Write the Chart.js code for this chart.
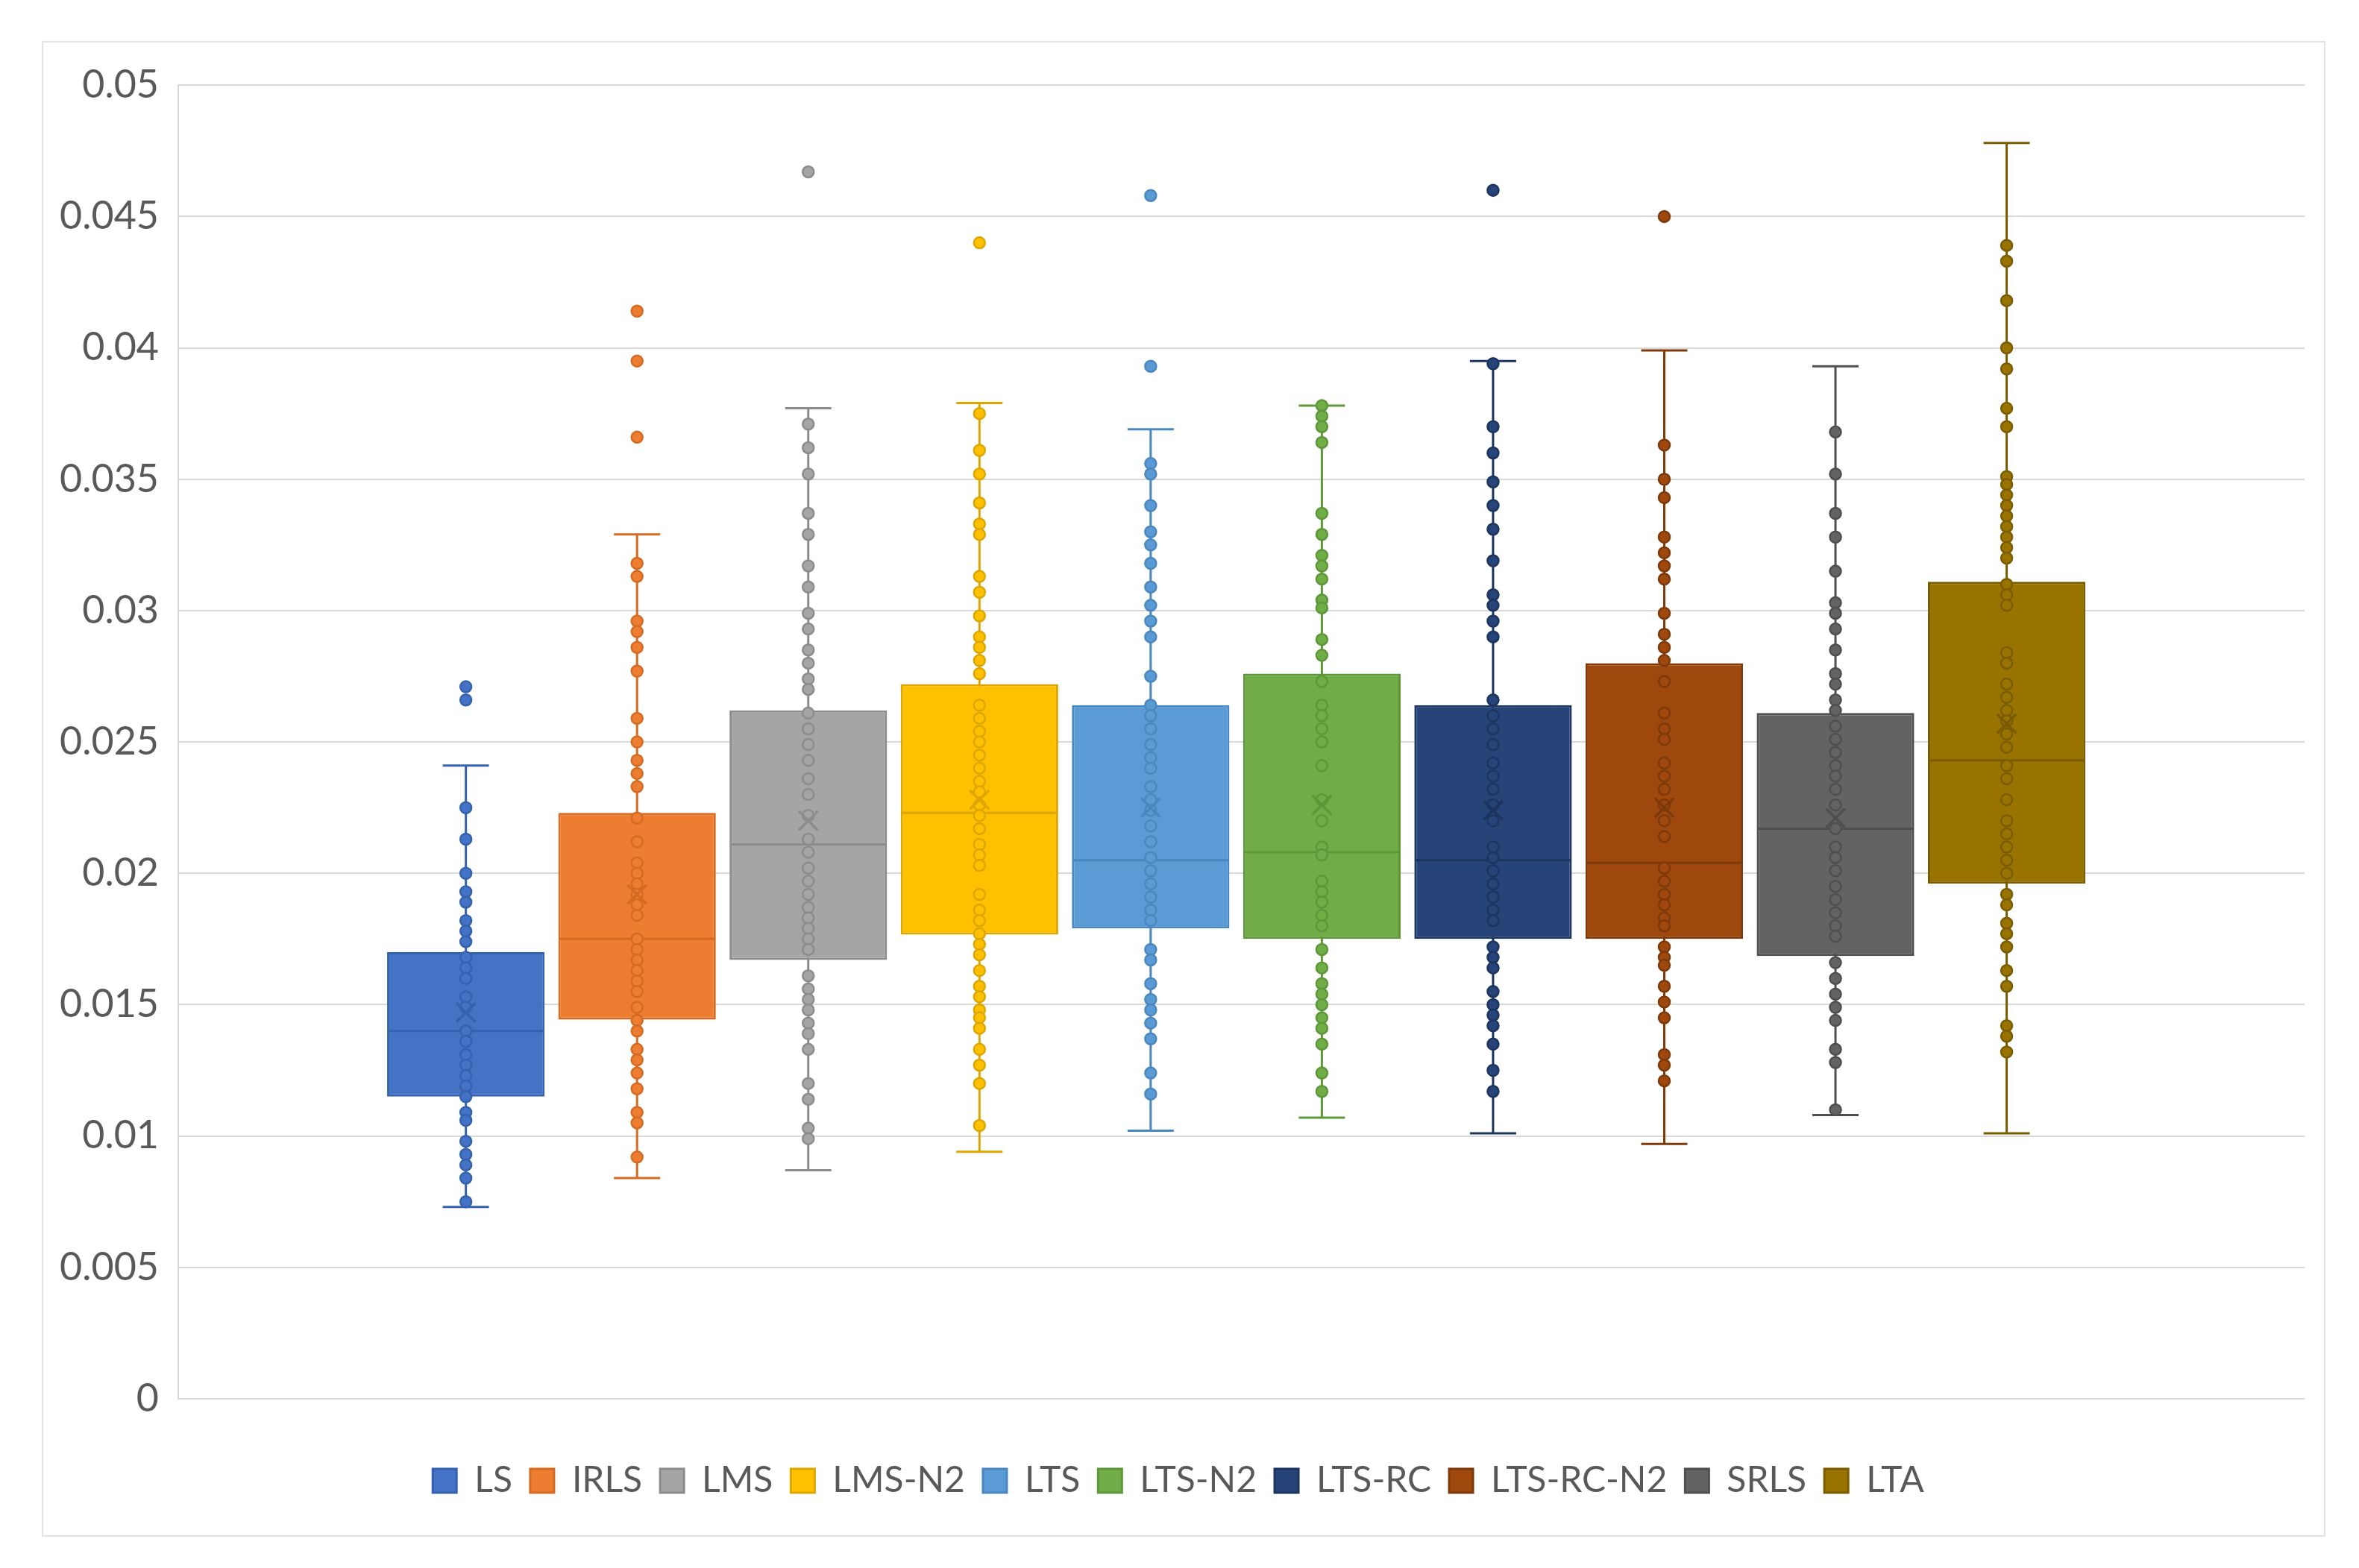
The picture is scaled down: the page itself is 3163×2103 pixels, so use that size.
<!DOCTYPE html>
<html>
<head>
<meta charset="utf-8">
<script src="https://cdn.jsdelivr.net/npm/chart.js@4.4.1/dist/chart.umd.min.js"></script>
<style>
  html, body { margin: 0; padding: 0; background: #fff; }
  #frame {
    position: absolute; left: 56px; top: 55px;
    width: 3062px; height: 2006px;
    border: 2px solid #e3e3e3; box-sizing: border-box;
  }
</style>
</head>
<body>
<div id="frame"><canvas id="chart"></canvas></div>
<script>
// series names (one box per method)
const categories = ['LS', 'IRLS', 'LMS', 'LMS-N2', 'LTS', 'LTS-N2', 'LTS-RC', 'LTS-RC-N2', 'SRLS', 'LTA'];

// box statistics
const q1s       = [0.0115, 0.01443, 0.0167, 0.01767, 0.0179, 0.0175, 0.0175, 0.0175, 0.01685, 0.0196];
const medians   = [0.0140, 0.0175, 0.0211, 0.0223, 0.0205, 0.0208, 0.0205, 0.0204, 0.0217, 0.0243];
const q3s       = [0.0170, 0.0223, 0.0262, 0.0272, 0.0264, 0.0276, 0.0264, 0.0280, 0.0261, 0.0311];
const lows      = [0.0073, 0.0084, 0.0087, 0.0094, 0.0102, 0.0107, 0.0101, 0.0097, 0.0108, 0.0101];
const highs     = [0.0241, 0.0329, 0.0377, 0.0379, 0.0369, 0.0378, 0.0395, 0.0399, 0.0393, 0.0478];
const means     = [0.0147, 0.0192, 0.0220, 0.0228, 0.0225, 0.0226, 0.0224, 0.0225, 0.0221, 0.0257];

// individual observations
const ptsLS = [0.0271, 0.0266, 0.0225, 0.0213, 0.0200, 0.0193, 0.0189, 0.0182, 0.0178, 0.0174, 0.0168, 0.0164,
  0.0160, 0.0153, 0.0149, 0.0140, 0.0136, 0.0131, 0.0127, 0.0123, 0.0119, 0.0115, 0.0109, 0.0106, 0.0098, 0.0093,
  0.0089, 0.0084, 0.0075];
const ptsIRLS = [0.0414, 0.0395, 0.0366, 0.0318, 0.0313, 0.0296, 0.0292, 0.0286, 0.0277, 0.0259, 0.0250, 0.0243,
  0.0238, 0.0233, 0.0221, 0.0212, 0.0204, 0.0200, 0.0196, 0.0192, 0.0188, 0.0184, 0.0175, 0.0171, 0.0167, 0.0163,
  0.0159, 0.0155, 0.0149, 0.0144, 0.0140, 0.0133, 0.0129, 0.0124, 0.0118, 0.0109, 0.0105, 0.0092];
const ptsLMS = [0.0467, 0.0371, 0.0362, 0.0352, 0.0337, 0.0329, 0.0317, 0.0309, 0.0299, 0.0293, 0.0285, 0.0280,
  0.0274, 0.0270, 0.0261, 0.0255, 0.0249, 0.0243, 0.0236, 0.0230, 0.0222, 0.0213, 0.0208, 0.0202, 0.0197, 0.0192,
  0.0187, 0.0183, 0.0179, 0.0175, 0.0171, 0.0161, 0.0156, 0.0152, 0.0148, 0.0143, 0.0139, 0.0133, 0.0120, 0.0114,
  0.0103, 0.0099];
const ptsLMSN2 = [0.0440, 0.0375, 0.0361, 0.0352, 0.0341, 0.0333, 0.0329, 0.0313, 0.0307, 0.0298, 0.0290, 0.0286,
  0.0281, 0.0276, 0.0264, 0.0259, 0.0254, 0.0250, 0.0245, 0.0240, 0.0235, 0.0231, 0.0226, 0.0222, 0.0217, 0.0211,
  0.0207, 0.0203, 0.0192, 0.0186, 0.0182, 0.0177, 0.0173, 0.0169, 0.0163, 0.0157, 0.0153, 0.0148, 0.0145, 0.0141,
  0.0133, 0.0127, 0.0120, 0.0104];
const ptsLTS = [0.0458, 0.0393, 0.0356, 0.0352, 0.0340, 0.0330, 0.0325, 0.0318, 0.0309, 0.0302, 0.0296, 0.0290,
  0.0275, 0.0264, 0.0260, 0.0255, 0.0249, 0.0244, 0.0240, 0.0233, 0.0228, 0.0224, 0.0218, 0.0212, 0.0206, 0.0201,
  0.0196, 0.0191, 0.0186, 0.0182, 0.0171, 0.0167, 0.0158, 0.0152, 0.0148, 0.0143, 0.0137, 0.0124, 0.0116];
const ptsLTSN2 = [0.0378, 0.0374, 0.0370, 0.0364, 0.0337, 0.0329, 0.0321, 0.0317, 0.0312, 0.0304, 0.0301, 0.0289,
  0.0283, 0.0273, 0.0264, 0.0260, 0.0255, 0.0250, 0.0241, 0.0228, 0.0220, 0.0210, 0.0207, 0.0197, 0.0193, 0.0189,
  0.0184, 0.0180, 0.0171, 0.0164, 0.0158, 0.0154, 0.0150, 0.0145, 0.0141, 0.0135, 0.0124, 0.0117];
const ptsLTSRC = [0.0460, 0.0394, 0.0370, 0.0360, 0.0349, 0.0340, 0.0331, 0.0319, 0.0306, 0.0302, 0.0296, 0.0290,
  0.0266, 0.0260, 0.0255, 0.0249, 0.0242, 0.0237, 0.0232, 0.0226, 0.0220, 0.0210, 0.0206, 0.0201, 0.0196, 0.0191,
  0.0186, 0.0182, 0.0172, 0.0168, 0.0164, 0.0155, 0.0150, 0.0146, 0.0142, 0.0135, 0.0125, 0.0117];
const ptsLTSRCN2 = [0.0450, 0.0363, 0.0350, 0.0343, 0.0328, 0.0322, 0.0317, 0.0312, 0.0299, 0.0291, 0.0286, 0.0281,
  0.0273, 0.0261, 0.0255, 0.0251, 0.0242, 0.0237, 0.0232, 0.0226, 0.0220, 0.0214, 0.0202, 0.0197, 0.0192, 0.0188,
  0.0183, 0.0180, 0.0172, 0.0168, 0.0165, 0.0157, 0.0151, 0.0145, 0.0131, 0.0127, 0.0121];
const ptsSRLS = [0.0368, 0.0352, 0.0337, 0.0328, 0.0315, 0.0303, 0.0299, 0.0293, 0.0285, 0.0276, 0.0272, 0.0266,
  0.0262, 0.0256, 0.0251, 0.0246, 0.0241, 0.0237, 0.0232, 0.0226, 0.0217, 0.0210, 0.0206, 0.0201, 0.0195, 0.0190,
  0.0185, 0.0180, 0.0176, 0.0166, 0.0160, 0.0154, 0.0149, 0.0144, 0.0133, 0.0128, 0.0110];
const ptsLTA = [0.0439, 0.0433, 0.0418, 0.0400, 0.0392, 0.0377, 0.0370, 0.0351, 0.0348, 0.0344, 0.0340, 0.0336,
  0.0332, 0.0328, 0.0324, 0.0320, 0.0310, 0.0306, 0.0302, 0.0284, 0.0280, 0.0272, 0.0267, 0.0262, 0.0258, 0.0253,
  0.0248, 0.0241, 0.0236, 0.0228, 0.0220, 0.0215, 0.0210, 0.0205, 0.0200, 0.0192, 0.0188, 0.0181, 0.0177, 0.0172,
  0.0163, 0.0157, 0.0142, 0.0138, 0.0132];
const pointSets = [ptsLS, ptsIRLS, ptsLMS, ptsLMSN2, ptsLTS, ptsLTSN2, ptsLTSRC, ptsLTSRCN2, ptsSRLS, ptsLTA];

const yTickLabels = ['0', '0.005', '0.01', '0.015', '0.02', '0.025', '0.03', '0.035', '0.04', '0.045', '0.05'];

const fillColors = ['#4472C4', '#ED7D31', '#A5A5A5', '#FFC000', '#5B9BD5', '#70AD47', '#264478', '#9E480E', '#636363', '#997300'];
const edgeColors = ['#3562B0', '#D56A22', '#8C8C8C', '#DCA500', '#4A87C0', '#5D9739', '#1C3560', '#7E390A', '#4F4F4F', '#7A5C00'];

Chart.defaults.font.family = 'Lato, "Open Sans", sans-serif';
Chart.defaults.color = '#595959';

function buildDatasets() {
  const sets = [];
  categories.forEach((name, i) => {
    // whisker stem, behind the box
    sets.push({
      type: 'line', order: 5,
      data: [{ x: i, y: lows[i] }, { x: i, y: highs[i] }],
      borderColor: edgeColors[i], borderWidth: 3, pointRadius: 0
    });
    // the box itself
    sets.push({
      type: 'bar', order: 4, label: name,
      data: [{ x: i, y: [q1s[i], q3s[i]] }],
      backgroundColor: fillColors[i], borderColor: edgeColors[i], borderWidth: 3,
      borderSkipped: false, grouped: false, categoryPercentage: 1, barPercentage: 0.92
    });
    // whisker caps
    sets.push({
      type: 'scatter', order: 3,
      data: [{ x: i, y: lows[i] }, { x: i, y: highs[i] }],
      pointStyle: 'line', pointRadius: 31, pointBorderWidth: 3,
      borderColor: edgeColors[i], backgroundColor: edgeColors[i]
    });
    // median
    sets.push({
      type: 'scatter', order: 3,
      data: [{ x: i, y: medians[i] }],
      pointStyle: 'line', pointRadius: 104, pointBorderWidth: 3,
      borderColor: edgeColors[i], backgroundColor: edgeColors[i]
    });
    // observations
    sets.push({
      type: 'scatter', order: 2,
      data: pointSets[i].map(v => ({ x: i, y: v })),
      pointRadius: 7.5, pointBorderWidth: 2.5,
      backgroundColor: fillColors[i], borderColor: edgeColors[i]
    });
    // mean marker
    sets.push({
      type: 'scatter', order: 1,
      data: [{ x: i, y: means[i] }],
      pointStyle: 'crossRot', pointRadius: 18, pointBorderWidth: 3.5,
      borderColor: edgeColors[i], backgroundColor: edgeColors[i]
    });
  });
  return sets;
}

const ctx = document.querySelector('#chart').getContext('2d');
const chart = new Chart(ctx, {
  type: 'bar',
  data: { datasets: buildDatasets() },
  options: {
    responsive: true,
    maintainAspectRatio: false,
    devicePixelRatio: 1,
    animation: false,
    layout: { autoPadding: false, padding: { top: 56, right: 26, bottom: 39, left: 12 } },
    plugins: {
      tooltip: { enabled: false },
      legend: {
        position: 'bottom',
        labels: {
          filter: (item, data) => data.datasets[item.datasetIndex].type === 'bar',
          boxWidth: 32, boxHeight: 32, padding: 24,
          font: { size: 48 }, color: '#595959'
        }
      }
    },
    scales: {
      x: {
        type: 'linear', min: -1.68, max: 10.74, offset: false,
        grid: { display: false },
        border: { display: false },
        ticks: { display: false, stepSize: 100 },
        afterFit: s => { s.height = 62; }
      },
      y: {
        min: 0, max: 0.05,
        grid: { color: '#d9d9d9', lineWidth: 2, drawTicks: false },
        border: { display: true, color: '#d9d9d9', width: 2 },
        ticks: {
          stepSize: 0.005, padding: 26,
          font: { size: 52 }, color: '#595959',
          callback: (value, index) => yTickLabels[index]
        },
        afterFit: s => { s.width = 169; }
      }
    }
  }
});
</script>
</body>
</html>
